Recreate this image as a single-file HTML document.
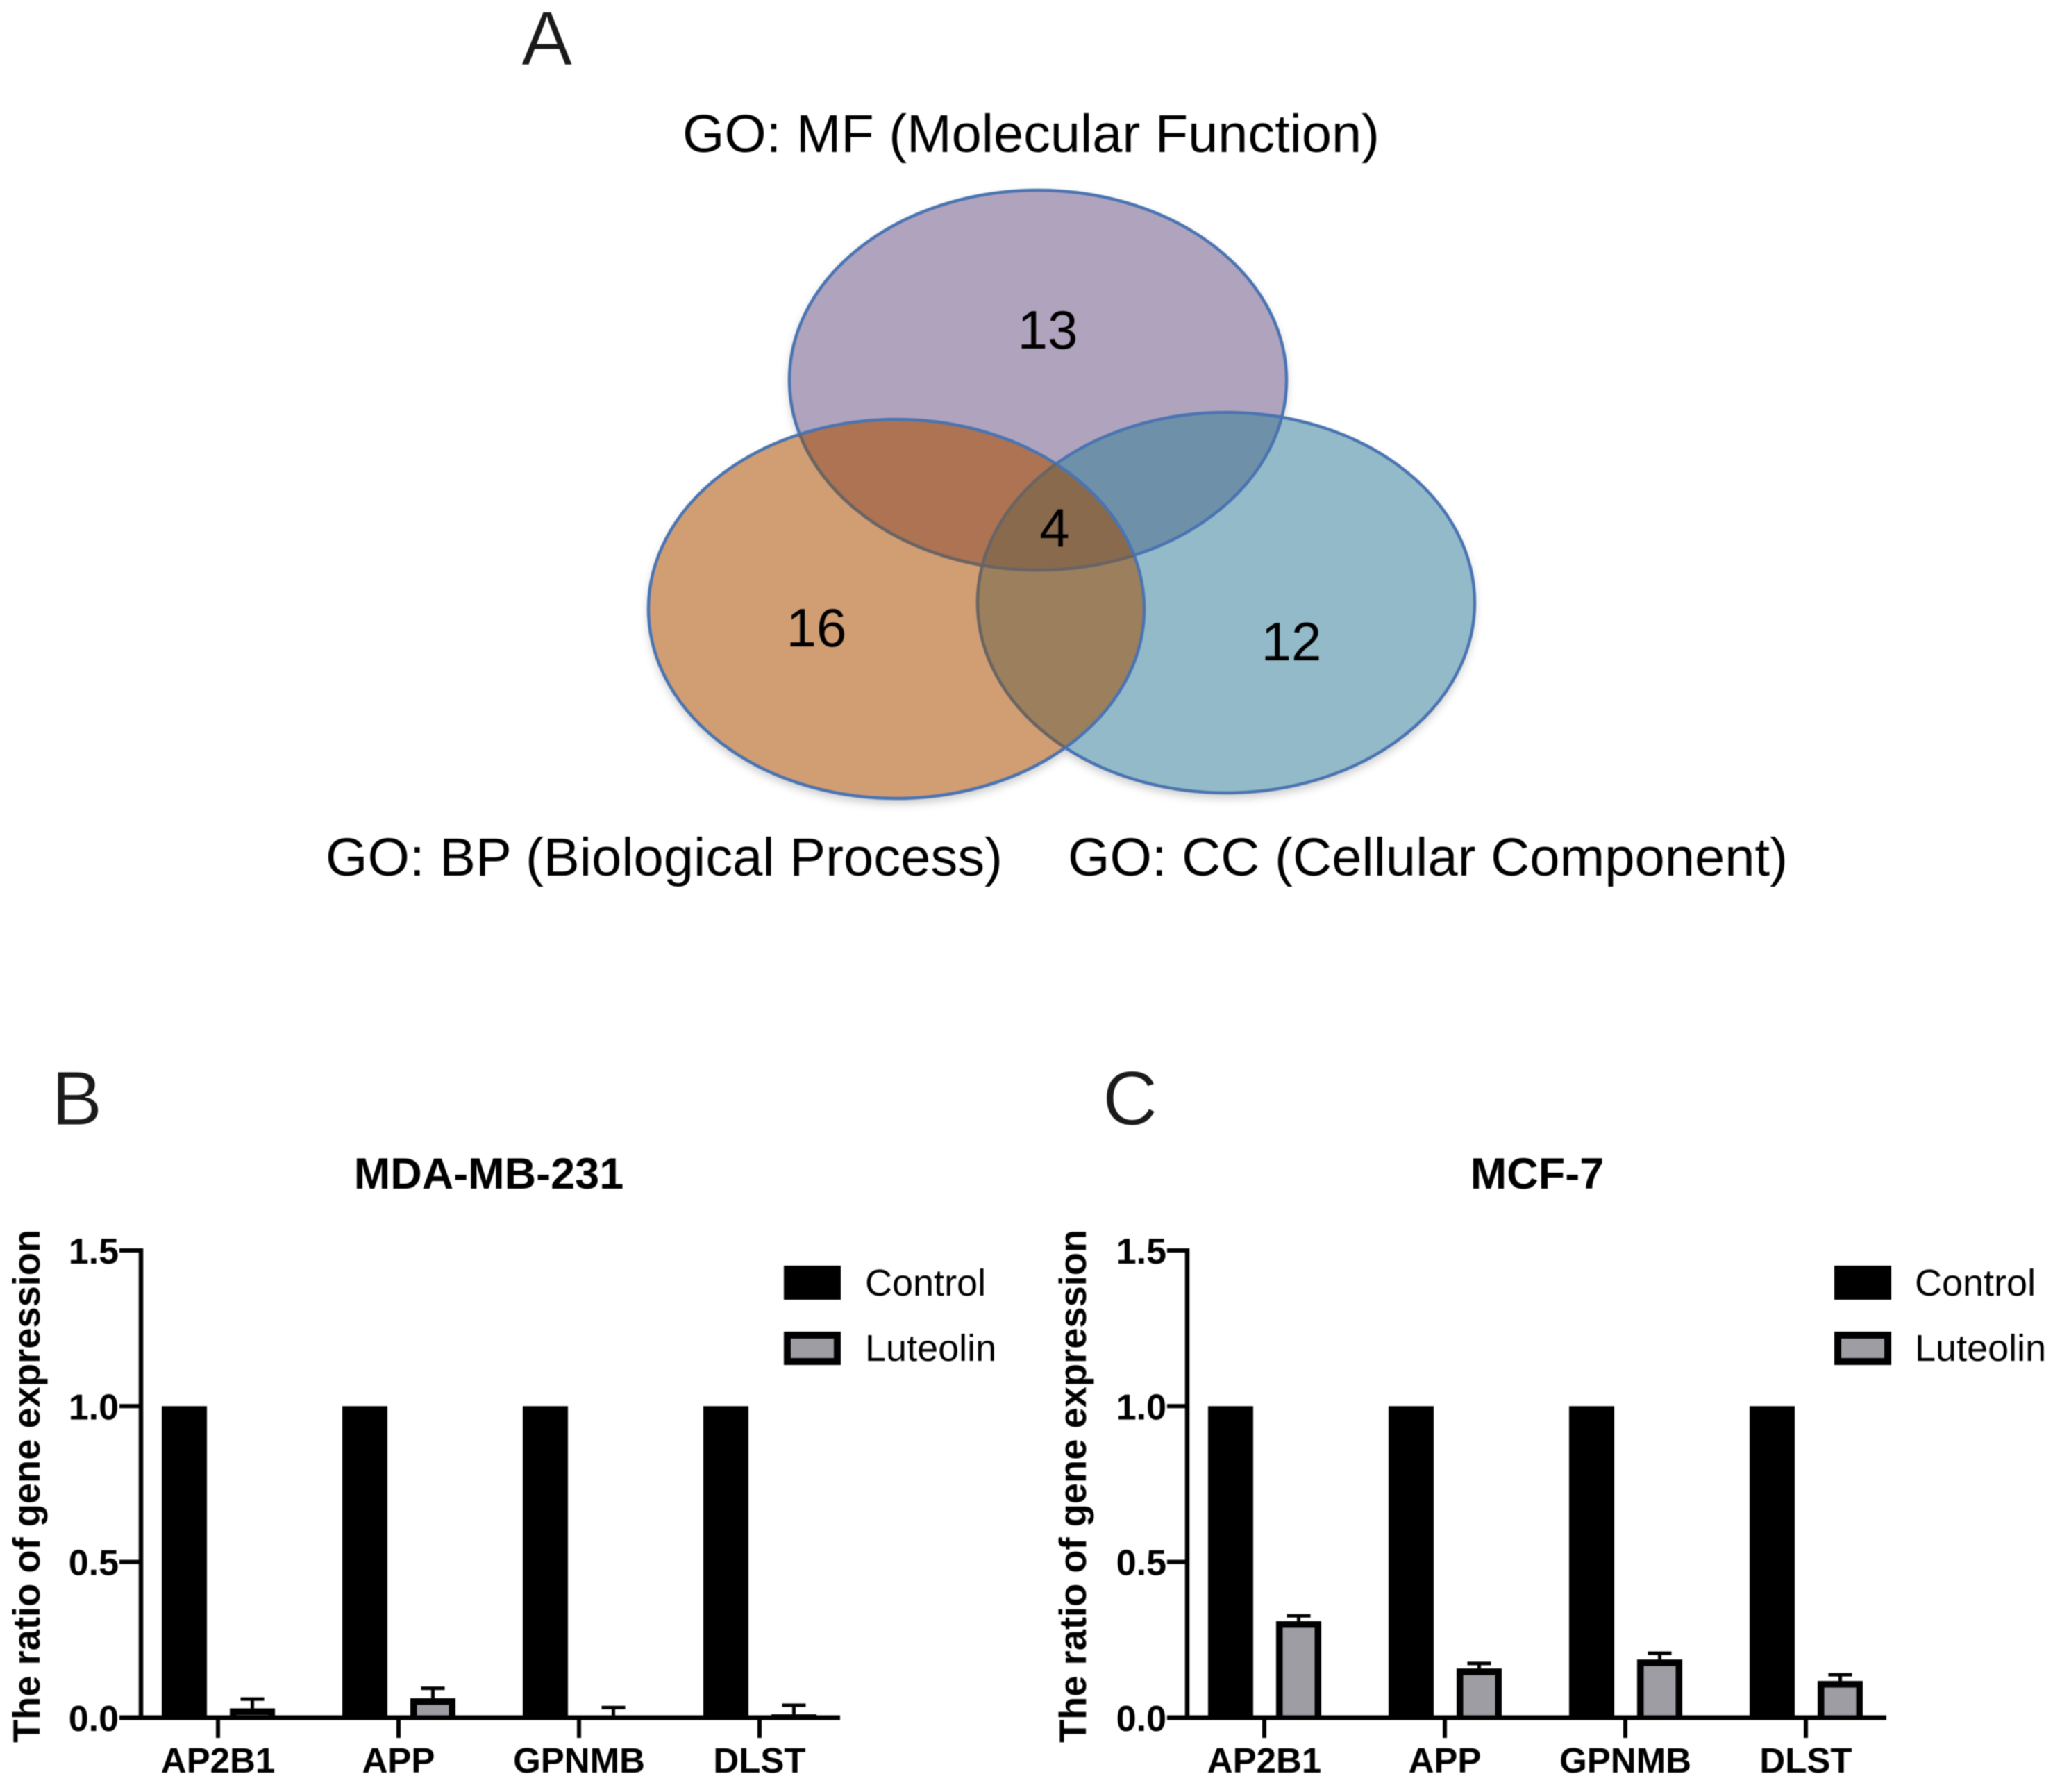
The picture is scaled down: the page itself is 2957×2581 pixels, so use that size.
<!DOCTYPE html>
<html>
<head>
<meta charset="utf-8">
<title>GO Venn diagram and gene expression charts</title>
<style>
html,body{margin:0;padding:0;background:#fff;width:2957px;height:2581px;overflow:hidden}
svg{display:block;filter:blur(0.8px)}
text{font-family:"Liberation Sans",Arial,sans-serif;fill:#000}
.panel-letter{font-size:110px;fill:#1a1a1a;stroke:#fff;stroke-width:1px}
.venn-title{font-size:77px;fill:#000}
.venn-num{font-size:78px;text-anchor:middle}
.chart-title{font-size:63px;font-weight:bold;text-anchor:middle}
.axis-title{font-size:54.3px;font-weight:bold}
.y-tick-label{font-size:52px;font-weight:bold;text-anchor:end}
.x-tick-label{font-size:51px;font-weight:bold;text-anchor:middle}
.legend-label{font-size:54px}
</style>
</head>
<body>
<svg id="root" xmlns="http://www.w3.org/2000/svg" width="2957" height="2581" viewBox="0 0 2957 2581">
  <defs>
    <filter id="soft" x="-10%" y="-10%" width="120%" height="120%"><feGaussianBlur stdDeviation="7"/></filter>
    <clipPath id="clip-mf"><ellipse cx="1495" cy="547.5" rx="358" ry="273.5"/></clipPath>
    <clipPath id="clip-bp"><ellipse cx="1291" cy="877" rx="357" ry="273"/></clipPath>
    <clipPath id="clip-cc"><ellipse cx="1766" cy="868" rx="358" ry="274"/></clipPath>
  </defs>
  <rect width="2957" height="2581" fill="#fff"/>

  <text class="panel-letter" x="751" y="93">A</text>
  <text class="panel-letter" x="74" y="1620">B</text>
  <text class="panel-letter" x="1588" y="1620">C</text>

  <g>
    <text class="venn-title" x="983" y="219" textLength="1004" lengthAdjust="spacingAndGlyphs">GO: MF (Molecular Function)</text>
    <text class="venn-title" x="469" y="1261" textLength="975" lengthAdjust="spacingAndGlyphs">GO: BP (Biological Process)</text>
    <text class="venn-title" x="1538" y="1261" textLength="1037" lengthAdjust="spacingAndGlyphs">GO: CC (Cellular Component)</text>

    <g fill="#000" opacity="0.22" filter="url(#soft)">
      <ellipse cx="1495" cy="553" rx="358" ry="273.5"/>
      <ellipse cx="1291" cy="884" rx="357" ry="273"/>
      <ellipse cx="1766" cy="875" rx="358" ry="274"/>
    </g>

    <ellipse cx="1495" cy="547.5" rx="358" ry="273.5" fill="#b0a3bd"/>
    <ellipse cx="1291" cy="877" rx="357" ry="273" fill="#d19d72"/>
    <ellipse cx="1766" cy="868" rx="358" ry="274" fill="#93bac8"/>

    <g clip-path="url(#clip-mf)"><ellipse cx="1291" cy="877" rx="357" ry="273" fill="#ad7352"/></g>
    <g clip-path="url(#clip-mf)"><ellipse cx="1766" cy="868" rx="358" ry="274" fill="#6f90a9"/></g>
    <g clip-path="url(#clip-bp)"><ellipse cx="1766" cy="868" rx="358" ry="274" fill="#9c7f5c"/></g>
    <g clip-path="url(#clip-bp)"><g clip-path="url(#clip-cc)"><ellipse cx="1495" cy="547.5" rx="358" ry="273.5" fill="#8a6a4c"/></g></g>

    <g fill="none" stroke="#4a74b2" stroke-width="4.5">
      <ellipse cx="1495" cy="547.5" rx="358" ry="273.5"/>
      <ellipse cx="1291" cy="877" rx="357" ry="273"/>
      <ellipse cx="1766" cy="868" rx="358" ry="274"/>
    </g>
    <g clip-path="url(#clip-bp)" fill="none" stroke="#6b6460" stroke-width="4.5">
      <ellipse cx="1495" cy="547.5" rx="358" ry="273.5"/>
      <ellipse cx="1766" cy="868" rx="358" ry="274"/>
    </g>

    <text class="venn-num" x="1509" y="502">13</text>
    <text class="venn-num" x="1519" y="787">4</text>
    <text class="venn-num" x="1176" y="931">16</text>
    <text class="venn-num" x="1860" y="951">12</text>
  </g>

  <g id="panel-b">
    <text class="chart-title" x="704" y="1712">MDA-MB-231</text>
    <text class="axis-title" transform="translate(57,2510) rotate(-90)">The ratio of gene expression</text>
    <rect x="1129" y="1823" width="82" height="49" fill="#000"/>
    <rect x="1134" y="1923" width="72" height="38" fill="#9e9da3" stroke="#000" stroke-width="10"/>
    <text class="legend-label" x="1246" y="1866">Control</text>
    <text class="legend-label" x="1246" y="1960">Luteolin</text>
  </g>

  <g id="panel-c">
    <text class="chart-title" x="2214" y="1712">MCF-7</text>
    <text class="axis-title" transform="translate(1564,2510) rotate(-90)">The ratio of gene expression</text>
    <rect x="2642" y="1823" width="82" height="49" fill="#000"/>
    <rect x="2647" y="1923" width="72" height="38" fill="#9e9da3" stroke="#000" stroke-width="10"/>
    <text class="legend-label" x="2758" y="1866">Control</text>
    <text class="legend-label" x="2758" y="1960">Luteolin</text>
  </g>
</svg>

<script>
const categories = ['AP2B1', 'APP', 'GPNMB', 'DLST'];
const yTickValues = [0, 0.5, 1, 1.5];
const yTickLabels = ['0.0', '0.5', '1.0', '1.5'];
const controlB = [1, 1, 1, 1];
const luteolinB = [0.03, 0.0625, 0, 0.011];
const errorB = [0.03, 0.032, 0.033, 0.029];
const controlC = [1, 1, 1, 1];
const luteolinC = [0.31, 0.158, 0.187, 0.118];
const errorC = [0.017, 0.016, 0.02, 0.02];

const NS = 'http://www.w3.org/2000/svg';
const Y_ZERO = 2474;
const Y_UNIT = 448.7;
const BAR_W = 65;
const BORDER = 9.5;

function yScale(v) { return Y_ZERO - v * Y_UNIT; }
function xScale(axisX, i) { return axisX + 111 + i * 260; }

function mk(parent, tag, attrs) {
  const el = document.createElementNS(NS, tag);
  for (const k in attrs) el.setAttribute(k, attrs[k]);
  parent.appendChild(el);
  return el;
}

function drawPanel(parent, suffix, axisX, axisLeft, axisRight, control, luteolin, errors) {
  categories.forEach(function (cat, i) {
    const cx = xScale(axisX, i);
    const slug = cat.toLowerCase() + '-' + suffix;

    const ctrl = mk(parent, 'rect', { x: cx - 81, y: yScale(control[i]), width: BAR_W, height: Y_ZERO - yScale(control[i]), fill: '#000' });
    
    

    const lx = cx + 17;
    const top = yScale(luteolin[i]);
    const capY = yScale(luteolin[i] + errors[i]);
    const stem = mk(parent, 'line', { x1: lx + BAR_W / 2, x2: lx + BAR_W / 2, y1: top, y2: capY, stroke: '#000', 'stroke-width': 5 });
    
    
    const cap = mk(parent, 'line', { x1: lx + BAR_W / 2 - 17, x2: lx + BAR_W / 2 + 17, y1: capY, y2: capY, stroke: '#000', 'stroke-width': 5 });
    
    

    const outer = mk(parent, 'rect', { x: lx, y: top, width: BAR_W, height: Y_ZERO - top, fill: '#000' });
    
    
    const innerH = Y_ZERO - 3 - (top + BORDER);
    if (innerH > 0) {
      const inner = mk(parent, 'rect', { x: lx + BORDER, y: top + BORDER, width: BAR_W - 2 * BORDER, height: innerH, fill: '#9e9da3' });
      
      
    }

    const tick = mk(parent, 'line', { x1: cx, x2: cx, y1: Y_ZERO, y2: 2503, stroke: '#000', 'stroke-width': 6 });
    
    
    const label = mk(parent, 'text', { x: cx, y: 2553, class: 'x-tick-label' });
    label.textContent = cat;
    
    
  });

  yTickValues.forEach(function (v, i) {
    const y = yScale(v);
    const tick = mk(parent, 'line', { x1: axisLeft, x2: axisX, y1: y, y2: y, stroke: '#000', 'stroke-width': 6 });
    
    
    const label = mk(parent, 'text', { x: axisLeft - 1, y: y + 19, class: 'y-tick-label' });
    label.textContent = yTickLabels[i];
    
    
  });

  const yAxis = mk(parent, 'line', { x1: axisX, x2: axisX, y1: yScale(1.5) - 3, y2: Y_ZERO + 3, stroke: '#000', 'stroke-width': 6.5 });
  
  
  const xAxis = mk(parent, 'line', { x1: axisLeft, x2: axisRight, y1: Y_ZERO, y2: Y_ZERO, stroke: '#000', 'stroke-width': 7 });
  
  
}

drawPanel(document.getElementById('panel-b'), 'b', 203, 172, 1210, controlB, luteolinB, errorB);
drawPanel(document.getElementById('panel-c'), 'c', 1710, 1681, 2717, controlC, luteolinC, errorC);
</script>
</body>
</html>
